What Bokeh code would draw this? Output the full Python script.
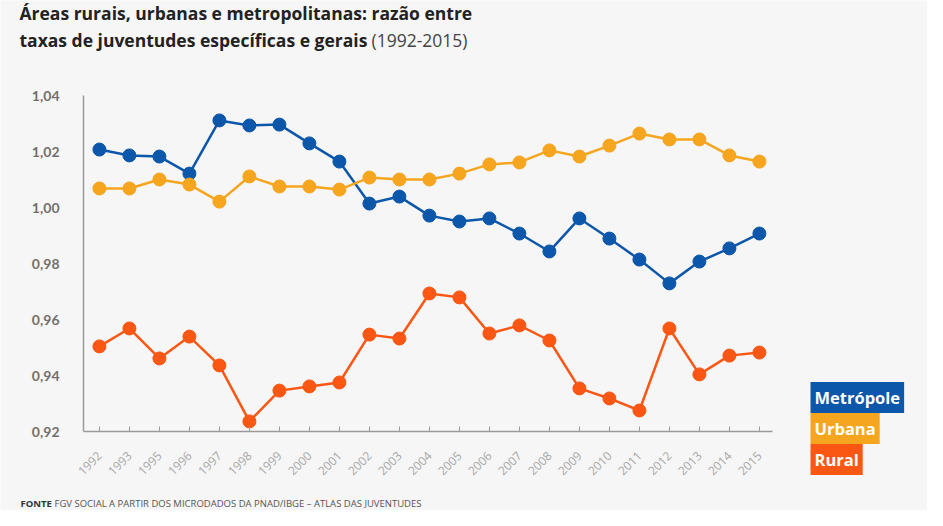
import math
from bokeh.plotting import figure
from bokeh.models import FixedTicker, CustomJSTickFormatter, Label, Range1d
from bokeh.embed import file_html
from bokeh.resources import INLINE

years = ["1992", "1993", "1995", "1996", "1997", "1998", "1999", "2000", "2001", "2002", "2003",
         "2004", "2005", "2006", "2007", "2008", "2009", "2010", "2011", "2012", "2013", "2014", "2015"]
metropole = [1.0207, 1.0186, 1.0182, 1.0121, 1.0311, 1.0293, 1.0296, 1.0229, 1.0164, 1.0014, 1.0039,
             0.9971, 0.9950, 0.9961, 0.9907, 0.9843, 0.9961, 0.9889, 0.9814, 0.9729, 0.9807, 0.9854, 0.9907]
urbana = [1.0068, 1.0068, 1.0100, 1.0082, 1.0021, 1.0111, 1.0075, 1.0075, 1.0064, 1.0107, 1.0100,
          1.0100, 1.0121, 1.0154, 1.0161, 1.0204, 1.0182, 1.0221, 1.0264, 1.0243, 1.0243, 1.0186, 1.0164]
rural = [0.9504, 0.9568, 0.9461, 0.9539, 0.9436, 0.9236, 0.9346, 0.9361, 0.9375, 0.9546, 0.9532,
         0.9693, 0.9679, 0.9550, 0.9579, 0.9525, 0.9354, 0.9318, 0.9275, 0.9568, 0.9404, 0.9471, 0.9482]
y_ticks = [0.92, 0.94, 0.96, 0.98, 1.00, 1.02, 1.04]

series = [("Metrópole", metropole, "#0D57AB"),
          ("Urbana", urbana, "#F6A51E"),
          ("Rural", rural, "#FA5714")]

xs = list(range(len(years)))

W, H = 927, 510
AX_L, AX_B = 83, 431      # axis positions in figure pixels
X0, PXX = -0.53, 30.0     # x value at the y axis, px per x unit
Y0, PXY = 0.92, 2800.0    # y value at the x axis, px per y unit


def dx(px):
    return X0 + (px - AX_L) / PXX


def dy(py):
    return Y0 + (AX_B - py) / PXY


p = figure(width=W, height=H, output_backend="svg", toolbar_location=None,
           x_range=Range1d(dx(0), dx(W)), y_range=Range1d(dy(H), dy(0)),
           min_border_left=0, min_border_right=0, min_border_top=0, min_border_bottom=0)
p.background_fill_color = "#f6f6f6"
p.border_fill_color = "#f6f6f6"
p.outline_line_color = None
p.xgrid.visible = False
p.ygrid.visible = False

for name, vals, col in series:
    p.line(xs, vals, line_color=col, line_width=2.5)
    p.scatter(xs, vals, size=13, fill_color=col, line_color=col)

# axes placed inside the frame
p.xaxis.fixed_location = Y0
p.xaxis.bounds = (X0, len(years) - 1 + 0.43)
p.xaxis.ticker = FixedTicker(ticks=xs)
p.xaxis.major_label_overrides = {i: y for i, y in enumerate(years)}
p.xaxis.major_label_orientation = math.pi / 4
p.xaxis.major_label_text_color = "#a8a8a8"
p.xaxis.major_label_text_font = "Open Sans"
p.xaxis.major_label_text_font_size = "12px"
p.xaxis.major_label_standoff = 22
p.xaxis.axis_line_color = "#9a9a9a"
p.xaxis.axis_line_width = 1.5
p.xaxis.major_tick_in = 5
p.xaxis.major_tick_out = 0
p.xaxis.major_tick_line_color = "#9a9a9a"
p.xaxis.minor_tick_line_color = None

p.yaxis.fixed_location = X0
p.yaxis.bounds = (0.92, 1.04)
p.yaxis.ticker = FixedTicker(ticks=y_ticks)
p.yaxis.formatter = CustomJSTickFormatter(code="return tick.toFixed(2).replace('.', ',');")
p.yaxis.major_label_text_color = "#707070"
p.yaxis.major_label_text_font = "Lato"
p.yaxis.major_label_text_font_style = "bold"
p.yaxis.major_label_text_font_size = "14px"
p.yaxis.major_label_standoff = 18
p.yaxis.axis_line_color = "#9a9a9a"
p.yaxis.axis_line_width = 1.5
p.yaxis.major_tick_line_color = None
p.yaxis.minor_tick_line_color = None

# title
p.add_layout(Label(x=dx(19), y=dy(12),
                   text="Áreas rurais, urbanas e metropolitanas: razão entre",
                   text_font="Open Sans", text_font_style="bold", text_font_size="17.5px",
                   text_color="#222222", text_baseline="middle"))
p.add_layout(Label(x=dx(19), y=dy(39),
                   text="taxas de juventudes específicas e gerais",
                   text_font="Open Sans", text_font_style="bold", text_font_size="17.5px",
                   text_color="#222222", text_baseline="middle"))
p.add_layout(Label(x=dx(371), y=dy(39),
                   text="(1992-2015)",
                   text_font="Open Sans", text_font_size="17.5px",
                   text_color="#444444", text_baseline="middle"))

# legend boxes
leg_py = [397, 428, 459]
for (name, vals, col), py in zip(series, leg_py):
    p.add_layout(Label(x=dx(810), y=dy(py),
                       text=name, text_font="Open Sans", text_font_style="bold",
                       text_font_size="16.5px", text_color="white", text_baseline="middle",
                       background_fill_color=col, padding=4))

# footer
p.add_layout(Label(x=dx(20), y=dy(503),
                   text="FONTE", text_font="Open Sans", text_font_style="bold",
                   text_font_size="9.5px", text_color="#333333", text_baseline="middle"))
p.add_layout(Label(x=dx(54), y=dy(503),
                   text="FGV SOCIAL A PARTIR DOS MICRODADOS DA PNAD/IBGE – ATLAS DAS JUVENTUDES",
                   text_font="Open Sans", text_font_size="9.5px", text_color="#555555",
                   text_baseline="middle"))

open("out.html", "w").write(file_html(p, INLINE))
